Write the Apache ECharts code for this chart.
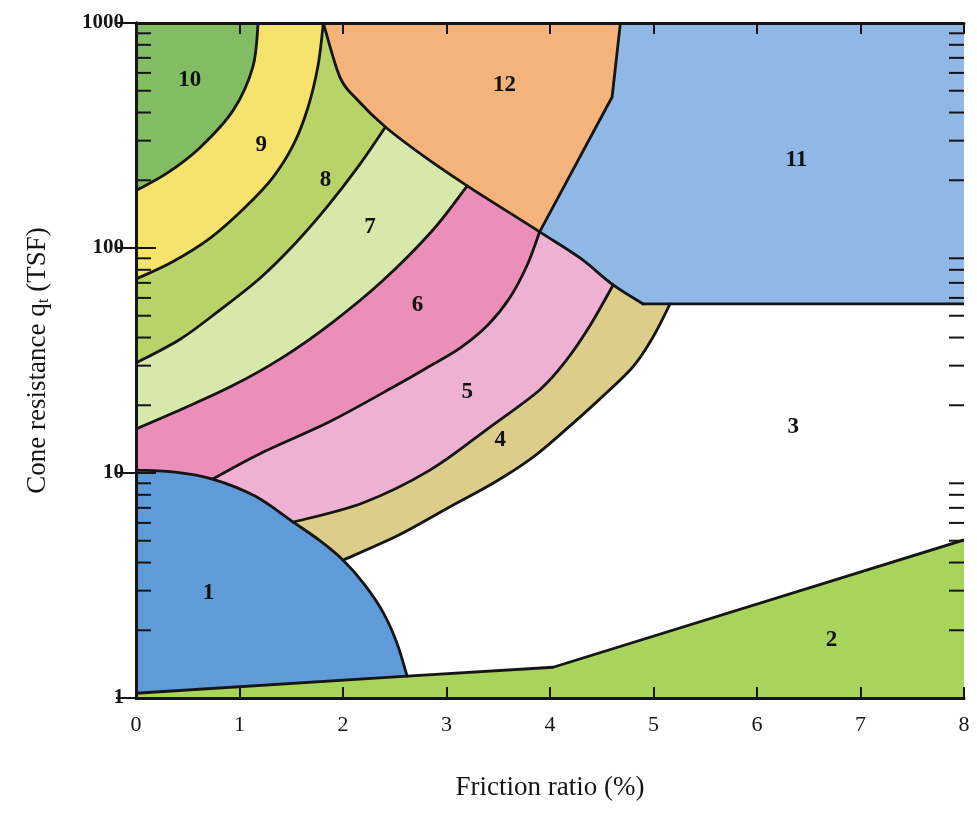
<!DOCTYPE html>
<html>
<head>
<meta charset="utf-8">
<script src="https://cdn.jsdelivr.net/npm/echarts@6/dist/echarts.min.js"></script>
<style>
  html, body { margin: 0; padding: 0; background: #ffffff; }
  #chart { width: 977px; height: 816px; }
</style>
</head>
<body>
<div id="chart"></div>
<script>
// Soil behaviour type chart: friction ratio (%) vs cone resistance qt (TSF).
// Boundary curves as [friction ratio %, qt TSF] points.
const edge10_9 = [[1.18,1000],[1.13,640],[0.94,410],[0.62,280],[0.30,215],[0,180]];
const edge9_8 = [[1.81,1000],[1.76,651],[1.66,419],[1.52,287],[1.32,205],[1.05,151],[0.72,111],[0.35,86.7],[0,72.8]];
const edge8_7 = [[2.41,345],[2.15,231],[1.86,155],[1.54,105],[1.20,73.6],[0.81,53.0],[0.43,39.4],[0,30.8]];
const edge7_6 = [[3.20,189],[2.86,119],[2.38,71.3],[1.89,46.4],[1.41,32.5],[0.93,24.4],[0.44,19.2],[0,15.7]];
const edge6_5 = [[3.90,118],[3.78,84.0],[3.61,59.9],[3.40,45.5],[3.13,35.9],[2.84,29.9],[2.52,24.6],[1.87,16.9],[1.23,12.4],[0.74,9.40]];
const edge5_4 = [[4.61,68.5],[4.39,45.5],[4.16,31.8],[3.90,23.4],[3.42,16.0],[2.84,10.3],[2.19,7.36],[1.52,6.05]];
const edge4_3 = [[5.16,56.4],[4.99,39.8],[4.80,29.6],[4.48,21.3],[4.16,15.7],[3.84,11.8],[3.47,9.12],[3.03,7.06],[2.54,5.30],[2.0,4.10]];
// outer arc of zone 1
const arc1 = [[0,10.3],[0.38,10.1],[0.74,9.40],[1.15,7.90],[1.52,6.05],[1.78,4.99],[2.0,4.10],[2.21,3.18],[2.39,2.39],[2.52,1.76],[2.62,1.25]];
// upper edge of zone 2
const edge2 = [[0,1.05],[2.62,1.25],[4.03,1.37],[8,5.04]];
// lower edge of zones 12 and 11: curved part, then the flat floor of zone 11
const edgeUpper = [[1.81,1000],[1.97,575],[2.14,455],[2.41,345],[2.79,254],[3.20,189],[3.90,118],[4.29,90.3],[4.61,68.5],[4.90,56.4]];
const edgeFloor = [[4.90,56.4],[5.16,56.4],[8,56.4]];
// edge between zones 12 and 11
const edge12_11 = [[4.68,1000],[4.60,469],[3.90,118]];

// zone numbers and where they are written
const zoneNames = ['1','2','3','4','5','6','7','8','9','10','11','12'];
const labelX = [0.70, 6.72, 6.35, 3.52, 3.20, 2.72, 2.26, 1.83, 1.21, 0.52, 6.38, 3.56];
const labelY = [2.93, 1.81, 16.0, 14.0, 22.9, 55.8, 124, 200, 287, 558, 246, 530];

const zoneColors = {
  '1': '#5f9bd9', '2': '#a9d45c', '4': '#dccd8b', '5': '#efb1d3', '6': '#eb8fba',
  '7': '#d7e9aa', '8': '#b8d468', '9': '#f6e36d', '10': '#82bd63', '11': '#8fb8e6', '12': '#f4b37b'
};

const yDecades = [1, 10, 100, 1000];
const minorSteps = [2, 3, 4, 5, 6, 7, 8, 9];

// edge registry: curved edges are drawn as Catmull-Rom curves through their points
const edges = {
  A: { pts: edge10_9, smooth: true },
  B: { pts: edge9_8, smooth: true },
  C: { pts: edge8_7, smooth: true },
  D: { pts: edge7_6, smooth: true },
  E: { pts: edge6_5, smooth: true },
  F: { pts: edge5_4, smooth: true },
  G: { pts: edge4_3, smooth: true },
  R: { pts: arc1, smooth: true },
  U: { pts: edgeUpper, smooth: true },
  W: { pts: edgeFloor, smooth: false },
  S: { pts: edge2, smooth: false },
  I: { pts: edge12_11, smooth: false }
};

// each zone outline: list of [edge, fromIndex, toIndex]; gaps are closed with straight lines
const zoneOutlines = [
  { zone: '10', pieces: [['A', 0, 5]], start: [0, 1000] },
  { zone: '9',  pieces: [['B', 0, 8], ['A', 5, 0]] },
  { zone: '8',  pieces: [['B', 0, 8], ['C', 7, 0], ['U', 3, 0]] },
  { zone: '7',  pieces: [['C', 0, 7], ['D', 7, 0], ['U', 5, 3]] },
  { zone: '6',  pieces: [['D', 0, 7], ['R', 0, 2], ['E', 9, 0], ['U', 6, 5]] },
  { zone: '5',  pieces: [['E', 0, 9], ['R', 2, 4], ['F', 7, 0], ['U', 8, 6]] },
  { zone: '4',  pieces: [['F', 0, 7], ['R', 4, 6], ['G', 9, 0], ['W', 1, 0], ['U', 9, 8]] },
  { zone: '1',  pieces: [['R', 0, 10], ['S', 1, 0]] },
  { zone: '2',  pieces: [['S', 0, 3]], end: [[8, 1], [0, 1]] },
  { zone: '11', pieces: [['I', 0, 2], ['U', 6, 9], ['W', 0, 2]], end: [[8, 1000]] },
  { zone: '12', pieces: [['U', 0, 6], ['I', 2, 0]] }
];
const boundaryKeys = ['A', 'B', 'C', 'D', 'E', 'F', 'G', 'R', 'U', 'W', 'S', 'I'];

// minor log ticks (2..9 in each decade)
const minorTicks = [];
yDecades.slice(0, 3).forEach(d => minorSteps.forEach(s => minorTicks.push([0, d * s])));

// cubic segments of an edge in pixel space
function edgeSegments(key, api) {
  const e = edges[key];
  const p = e.pts.map(q => api.coord(q));
  const segs = [];
  for (let k = 0; k < p.length - 1; k++) {
    const p0 = p[k], p1 = p[k + 1];
    if (!e.smooth) { segs.push([p0, p0, p1, p1]); continue; }
    const pm = p[k - 1] || p0, p2 = p[k + 2] || p1;
    const t = 1 / 6;
    segs.push([
      p0,
      [p0[0] + (p1[0] - pm[0]) * t, p0[1] + (p1[1] - pm[1]) * t],
      [p1[0] - (p2[0] - p0[0]) * t, p1[1] - (p2[1] - p0[1]) * t],
      p1
    ]);
  }
  return segs;
}
const f = v => v.toFixed(2);
// path commands following an edge from point index i to j (either direction)
function piecePath(key, i, j, api, first) {
  const segs = edgeSegments(key, api);
  let out = '';
  const s = api.coord(edges[key].pts[i]);
  out += (first ? 'M' : 'L') + f(s[0]) + ' ' + f(s[1]) + ' ';
  if (i < j) {
    for (let k = i; k < j; k++) {
      const g = segs[k];
      out += 'C' + f(g[1][0]) + ' ' + f(g[1][1]) + ' ' + f(g[2][0]) + ' ' + f(g[2][1]) + ' ' + f(g[3][0]) + ' ' + f(g[3][1]) + ' ';
    }
  } else {
    for (let k = i - 1; k >= j; k--) {
      const g = segs[k];
      out += 'C' + f(g[2][0]) + ' ' + f(g[2][1]) + ' ' + f(g[1][0]) + ' ' + f(g[1][1]) + ' ' + f(g[0][0]) + ' ' + f(g[0][1]) + ' ';
    }
  }
  return out;
}
function zonePath(o, api) {
  let d = '';
  let first = true;
  if (o.start) { const s = api.coord(o.start); d += 'M' + f(s[0]) + ' ' + f(s[1]) + ' '; first = false; }
  o.pieces.forEach(pc => { d += piecePath(pc[0], pc[1], pc[2], api, first); first = false; });
  (o.end || []).forEach(q => { const s = api.coord(q); d += 'L' + f(s[0]) + ' ' + f(s[1]) + ' '; });
  return d + 'Z';
}

const serif = '"Liberation Serif", "DejaVu Serif", "Times New Roman", serif';
const ink = '#151515';

const chart = echarts.init(document.getElementById('chart'), null, { renderer: 'canvas' });

chart.setOption({
  backgroundColor: '#ffffff',
  animation: false,
  grid: { left: 136, right: 13, top: 23, bottom: 118 },
  xAxis: [
    {
      type: 'value', min: 0, max: 8, interval: 1, position: 'bottom', z: 5,
      name: 'Friction ratio (%)', nameLocation: 'middle', nameGap: 76,
      nameTextStyle: { fontFamily: serif, fontSize: 27, color: ink },
      axisLine: { lineStyle: { color: ink, width: 3 } },
      axisTick: { inside: true, length: 11, lineStyle: { color: ink, width: 2 } },
      axisLabel: { fontFamily: serif, fontSize: 22, color: ink, margin: 16 },
      splitLine: { show: false }
    },
    {
      type: 'value', min: 0, max: 8, interval: 1, position: 'top', z: 5,
      axisLine: { lineStyle: { color: ink, width: 3 } },
      axisTick: { inside: true, length: 11, lineStyle: { color: ink, width: 2 } },
      axisLabel: { show: false },
      splitLine: { show: false }
    }
  ],
  yAxis: [
    {
      type: 'log', logBase: 10, min: 1, max: 1000, position: 'left', z: 5,
      name: 'Cone resistance q{s|t} (TSF)', nameLocation: 'middle', nameGap: 84, nameRotate: 90,
      nameTextStyle: { fontFamily: serif, fontSize: 27, color: ink,
                       rich: { s: { fontFamily: serif, fontSize: 17, color: ink, padding: [12, 0, 0, 0] } } },
      axisLine: { lineStyle: { color: ink, width: 3 } },
      axisTick: { inside: true, length: 20, lineStyle: { color: ink, width: 2 } },
      axisLabel: { fontFamily: serif, fontSize: 21, fontWeight: 'bold', color: ink, margin: 12,
                   formatter: v => yDecades.indexOf(Math.round(v)) >= 0 ? String(Math.round(v)) : '' },
      splitLine: { show: false }
    },
    {
      type: 'log', logBase: 10, min: 1, max: 1000, position: 'right', z: 5,
      axisLine: { lineStyle: { color: ink, width: 3 } },
      axisTick: { inside: true, length: 20, lineStyle: { color: ink, width: 2 } },
      axisLabel: { show: false },
      splitLine: { show: false }
    }
  ],
  series: [
    {
      // coloured zones
      type: 'custom', z: 1, clip: true, silent: true,
      data: zoneOutlines.map((o, i) => [i]),
      encode: { x: -1, y: -1 },
      renderItem: (params, api) => {
        const o = zoneOutlines[params.dataIndex];
        return {
          type: 'path',
          shape: { pathData: zonePath(o, api) },
          style: { fill: zoneColors[o.zone], stroke: zoneColors[o.zone], lineWidth: 1 }
        };
      }
    },
    {
      // zone boundaries
      type: 'custom', z: 2, clip: true, silent: true,
      data: boundaryKeys.map((k, i) => [i]),
      encode: { x: -1, y: -1 },
      renderItem: (params, api) => {
        const key = boundaryKeys[params.dataIndex];
        return {
          type: 'path',
          shape: { pathData: piecePath(key, 0, edges[key].pts.length - 1, api, true) },
          style: { fill: null, stroke: ink, lineWidth: 2.8, lineJoin: 'round', lineCap: 'round' }
        };
      }
    },
    {
      // minor log ticks on the left and right frame
      type: 'custom', z: 6, silent: true,
      data: minorTicks,
      renderItem: (params, api) => {
        const v = minorTicks[params.dataIndex][1];
        const l = api.coord([0, v]);
        const r = api.coord([8, v]);
        return {
          type: 'group',
          children: [
            { type: 'line', shape: { x1: l[0], y1: l[1], x2: l[0] + 15, y2: l[1] }, style: { stroke: ink, lineWidth: 2 } },
            { type: 'line', shape: { x1: r[0], y1: r[1], x2: r[0] - 15, y2: r[1] }, style: { stroke: ink, lineWidth: 2 } }
          ]
        };
      }
    },
    {
      // zone numbers
      type: 'scatter', z: 7, silent: true, symbolSize: 0,
      itemStyle: { opacity: 1 },
      data: zoneNames.map((n, i) => ({ name: n, value: [labelX[i], labelY[i]] })),
      label: {
        show: true, position: 'inside', formatter: p => p.name, opacity: 1,
        fontFamily: serif, fontSize: 23, fontWeight: 'bold', color: '#111111',
        textBorderWidth: 0, textShadowBlur: 0
      }
    }
  ]
});
</script>
</body>
</html>
